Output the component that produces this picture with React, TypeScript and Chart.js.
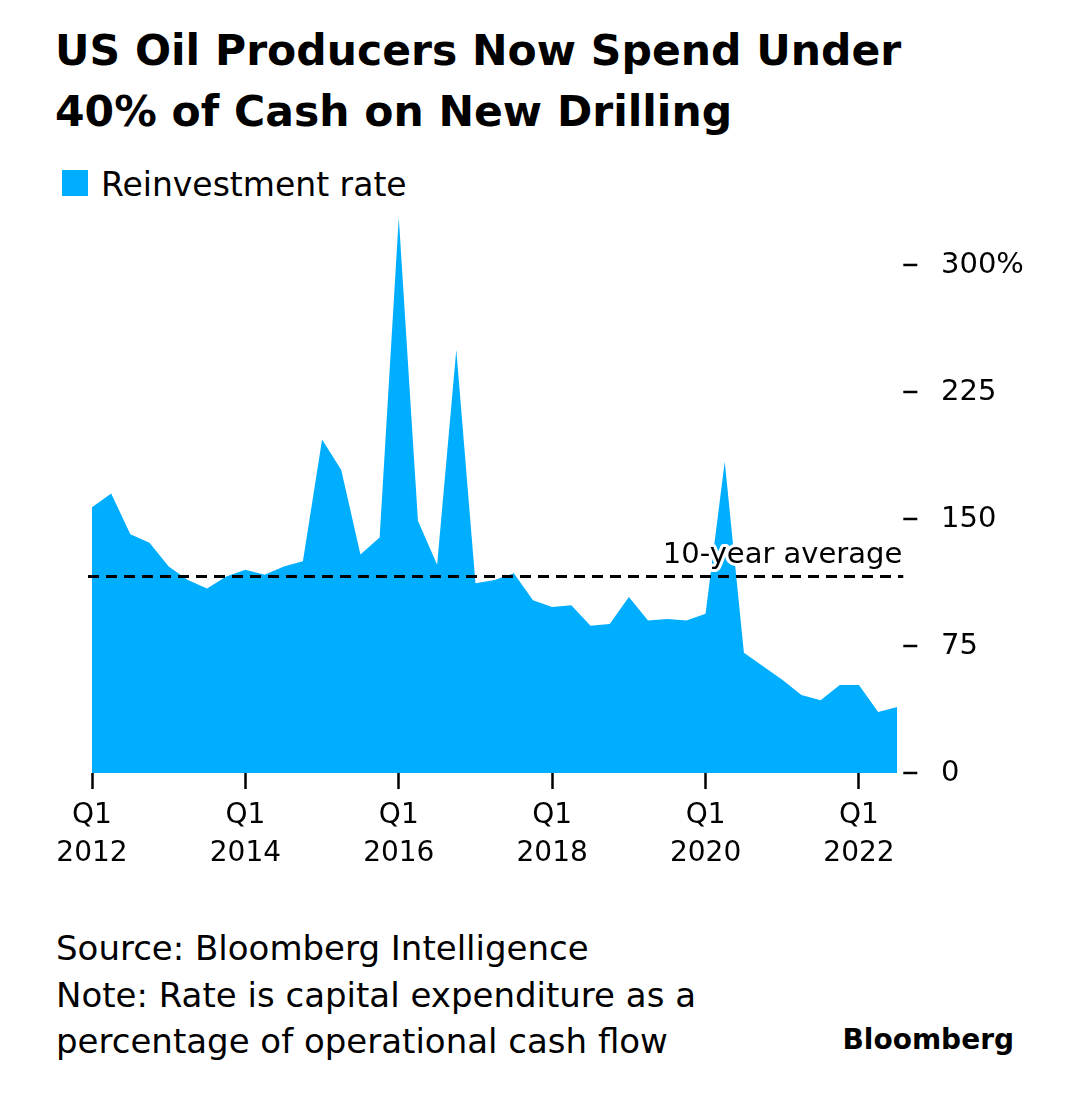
import React, { useEffect, useRef } from "react";
import { Chart, registerables } from "chart.js";

Chart.register(...registerables);

const TITLE_LINES = ["US Oil Producers Now Spend Under", "40% of Cash on New Drilling"];
const LEGEND_LABEL = "Reinvestment rate";
const AVERAGE_LABEL = "10-year average";
const FOOTER_LINES = [
  "Source: Bloomberg Intelligence",
  "Note: Rate is capital expenditure as a",
  "percentage of operational cash flow",
];
const BRAND = "Bloomberg";

const QUARTERS = [
  "Q1 2012", "Q2 2012", "Q3 2012", "Q4 2012",
  "Q1 2013", "Q2 2013", "Q3 2013", "Q4 2013",
  "Q1 2014", "Q2 2014", "Q3 2014", "Q4 2014",
  "Q1 2015", "Q2 2015", "Q3 2015", "Q4 2015",
  "Q1 2016", "Q2 2016", "Q3 2016", "Q4 2016",
  "Q1 2017", "Q2 2017", "Q3 2017", "Q4 2017",
  "Q1 2018", "Q2 2018", "Q3 2018", "Q4 2018",
  "Q1 2019", "Q2 2019", "Q3 2019", "Q4 2019",
  "Q1 2020", "Q2 2020", "Q3 2020", "Q4 2020",
  "Q1 2021", "Q2 2021", "Q3 2021", "Q4 2021",
  "Q1 2022", "Q2 2022", "Q3 2022",
];

const REINVESTMENT_RATE = [
  157, 165, 141, 136,
  122, 114, 109, 116,
  120, 117, 122, 125,
  197, 179, 129, 139,
  328, 149, 123, 250,
  112, 114, 118, 102,
  98, 99, 87, 88,
  104, 90, 91, 90,
  94, 184, 71, 63,
  55, 46, 43, 52,
  52, 36, 39,
];

const TEN_YEAR_AVERAGE = 116;
const Y_TICKS = [0, 75, 150, 225, 300];
const Y_MAX = 335;

const FONT = "'DejaVu Sans', sans-serif";
const BLUE = "#00aeff";

function isLabelled(index: number): boolean {
  const lab = QUARTERS[index];
  if (!lab) return false;
  const [q, y] = lab.split(" ");
  return q === "Q1" && Number(y) % 2 === 0;
}

const averagePlugin = {
  id: "tenYearAverage",
  afterDatasetsDraw(chart: any) {
    const { ctx, chartArea, scales } = chart;
    const py = scales.y.getPixelForValue(TEN_YEAR_AVERAGE);
    ctx.save();
    ctx.setLineDash([11, 7]);
    ctx.lineWidth = 3;
    ctx.strokeStyle = "#000";
    ctx.beginPath();
    ctx.moveTo(chartArea.left - 4, py);
    ctx.lineTo(chartArea.right + 6, py);
    ctx.stroke();
    ctx.setLineDash([]);
    ctx.font = `29px ${FONT}`;
    ctx.textAlign = "right";
    ctx.textBaseline = "alphabetic";
    ctx.lineJoin = "round";
    ctx.strokeStyle = "#fff";
    ctx.lineWidth = 6;
    ctx.strokeText(AVERAGE_LABEL, chartArea.right + 5, py - 14);
    ctx.fillStyle = "#000";
    ctx.fillText(AVERAGE_LABEL, chartArea.right + 5, py - 14);
    ctx.restore();
  },
};

const yTickPlugin = {
  id: "yTickMarks",
  afterDatasetsDraw(chart: any) {
    const { ctx, chartArea, scales } = chart;
    const y = scales.y;
    ctx.save();
    ctx.strokeStyle = "#000";
    ctx.lineWidth = 2.5;
    y.ticks.forEach((t: any) => {
      const p = y.getPixelForValue(t.value);
      ctx.beginPath();
      ctx.moveTo(chartArea.right + 6, p);
      ctx.lineTo(chartArea.right + 20, p);
      ctx.stroke();
    });
    ctx.restore();
  },
};

function ChartCanvas() {
  const ref = useRef<HTMLCanvasElement | null>(null);
  useEffect(() => {
    if (!ref.current) return;
    const chart = new Chart(ref.current, {
      type: "line",
      data: {
        labels: QUARTERS,
        datasets: [
          {
            label: LEGEND_LABEL,
            data: REINVESTMENT_RATE,
            fill: "origin",
            backgroundColor: BLUE,
            borderColor: BLUE,
            borderWidth: 0,
            pointRadius: 0,
            tension: 0,
          },
        ],
      },
      options: {
        animation: false,
        responsive: false,
        devicePixelRatio: 1,
        layout: { padding: { left: 92, right: 0, top: 5.7, bottom: 0 } },
        plugins: { legend: { display: false }, tooltip: { enabled: false } },
        scales: {
          x: {
            type: "category",
            offset: false,
            border: { display: false },
            grid: {
              drawOnChartArea: false,
              drawTicks: true,
              tickLength: 16,
              tickWidth: 2.5,
              tickColor: (c: any) => (isLabelled(c.index) ? "#000" : "rgba(0,0,0,0)"),
            },
            ticks: {
              autoSkip: false,
              maxRotation: 0,
              minRotation: 0,
              padding: 8,
              color: "#000",
              font: { family: FONT, size: 28, lineHeight: 38 / 28 },
              callback: (_v: any, i: number) => {
                if (!isLabelled(i)) return "";
                return QUARTERS[i].split(" ");
              },
            },
            afterFit: (s: any) => {
              s.height = 100;
            },
          },
          y: {
            position: "right",
            min: 0,
            max: Y_MAX,
            border: { display: false },
            grid: { display: false, drawTicks: false },
            afterBuildTicks: (s: any) => {
              s.ticks = Y_TICKS.map((v) => ({ value: v }));
            },
            ticks: {
              padding: 43.7,
              color: "#000",
              font: { family: FONT, size: 29 },
              callback: (v: any) => (Number(v) === 300 ? "300%" : String(v)),
            },
            afterFit: (s: any) => {
              s.width = 182.7;
              s.paddingTop = 0;
              s.paddingBottom = 0;
            },
          },
        },
      },
      plugins: [averagePlugin, yTickPlugin],
    } as any);
    return () => chart.destroy();
  }, []);
  return (
    <canvas
      ref={ref}
      width={1080}
      height={673}
      style={{ position: "absolute", left: 0, top: 200, width: 1080, height: 673 }}
    />
  );
}

export default function App() {
  return (
    <div
      style={{
        position: "absolute",
        left: 0,
        top: 0,
        width: 1080,
        height: 1101,
        background: "#fff",
        fontFamily: FONT,
        color: "#000",
        overflow: "hidden",
      }}
    >
      <div
        style={{
          position: "absolute",
          left: 55,
          top: 19.8,
          fontSize: 42.5,
          fontWeight: 700,
          lineHeight: "61px",
          whiteSpace: "nowrap",
        }}
      >
        {TITLE_LINES.map((l) => (
          <div key={l}>{l}</div>
        ))}
      </div>
      <div style={{ position: "absolute", left: 62, top: 170, width: 26, height: 26, background: BLUE }} />
      <div
        style={{
          position: "absolute",
          left: 101,
          top: 168,
          fontSize: 33,
          lineHeight: "33px",
          whiteSpace: "nowrap",
        }}
      >
        {LEGEND_LABEL}
      </div>
      <ChartCanvas />
      <div
        style={{
          position: "absolute",
          left: 56,
          top: 925,
          fontSize: 34,
          lineHeight: "46.5px",
          whiteSpace: "nowrap",
        }}
      >
        {FOOTER_LINES.map((l) => (
          <div key={l}>{l}</div>
        ))}
      </div>
      <div
        style={{
          position: "absolute",
          right: 66,
          top: 1026,
          fontSize: 28,
          fontWeight: 700,
          lineHeight: "28px",
          whiteSpace: "nowrap",
        }}
      >
        {BRAND}
      </div>
    </div>
  );
}
